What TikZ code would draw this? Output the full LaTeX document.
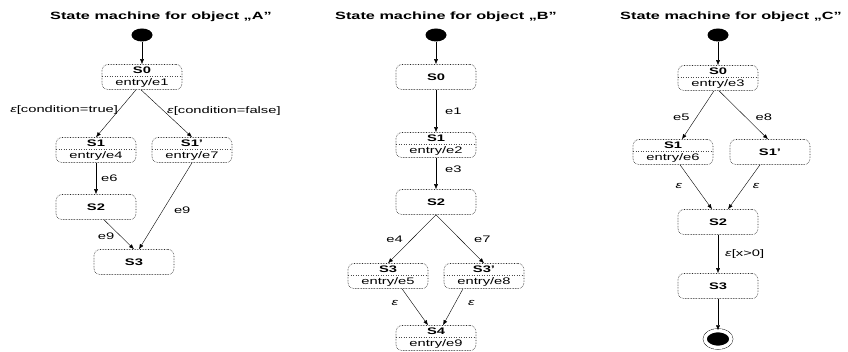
\documentclass[tikz,border=0pt]{standalone}
\usepackage{fontspec}
\setmainfont{Liberation Sans}[FakeStretch=1.55]
\usetikzlibrary{positioning,shapes.geometric,arrows.meta}

\newcommand\epsl{\textit{ε}}

\begin{document}
\begin{tikzpicture}
[
  x=1pt, y=-1pt,
  stat/.style={rectangle, rounded corners=6pt, draw=black!85, densely dotted, line width=.6pt,
    minimum width=80pt, minimum height=25pt, inner sep=1.5pt, align=center,
    font=\fontsize{9.5}{12.2}\selectfont},
  splitstat/.style={stat, path picture={\draw[black!70, dotted, line width=.5pt]
    ([yshift=.5pt]path picture bounding box.west) -- ([yshift=.5pt]path picture bounding box.east);}},
  initdot/.style={ellipse, fill=black, minimum width=21pt, minimum height=13pt, inner sep=0pt},
  finaldot/.style={ellipse, fill=black, draw, double=white, double distance=3.5pt,
    minimum width=26pt, minimum height=17pt, inner sep=0pt},
  heading/.style={font=\fontsize{10.5}{12}\selectfont\bfseries},
  lbl/.style={font=\fontsize{9.5}{11}\selectfont, inner sep=1pt},
  >={Latex[length=5pt,width=4pt]},
  on grid,
  thin
]
 \useasboundingbox (0,0) rectangle (848,352);

 % object A
 \node[heading] (ta) at (161,17) {State machine for object „A”};
 \node[initdot] (ai) at (142,35) {};
 \node[splitstat] (a0) [below=42pt of ai] {\textbf{S0}\\entry/e1};
 \node[splitstat] (a1) [below left=73pt and 46pt of a0] {\textbf{S1}\\entry/e4};
 \node[splitstat] (a1p) [below right=73pt and 50pt of a0] {\textbf{S1'}\\entry/e7};
 \node[stat] (a2) [below=57pt of a1] {\textbf{S2}};
 \node[stat] (a3) [below right=55pt and 38pt of a2] {\textbf{S3}};

 \path[->]
    (ai) edge (a0)
    ([xshift=-6pt]a0.south) edge node [lbl, left, pos=.42] {\epsl[condition=true]} (a1.north)
    ([xshift=-1pt]a0.south) edge node [lbl, right=2pt, pos=.45] {\epsl[condition=false]} (a1p.north)
    (a1) edge node [lbl, right=4pt] {e6} (a2)
    ([xshift=8pt]a2.south) edge node [lbl, left=5pt, pos=.55] {e9} (a3.north)
    (a1p.south) edge node [lbl, right=10pt, pos=.55] {e9} ([xshift=5pt]a3.north);

 % object B
 \node[heading] (tb) at (446,17) {State machine for object „B”};
 \node[initdot] (bi) at (436,35) {};
 \node[stat] (b0) [below=42pt of bi] {\textbf{S0}};
 \node[splitstat] (b1) [below=68pt of b0] {\textbf{S1}\\entry/e2};
 \node[stat] (b2) [below=57pt of b1] {\textbf{S2}};
 \node[splitstat] (b3) [below left=74pt and 48pt of b2] {\textbf{S3}\\entry/e5};
 \node[splitstat] (b3p) [below right=74pt and 48pt of b2] {\textbf{S3'}\\entry/e8};
 \node[splitstat] (b4) [below right=62pt and 48pt of b3] {\textbf{S4}\\entry/e9};

 \path[->]
    (bi) edge (b0)
    (b0) edge node [lbl, right=8pt] {e1} (b1)
    (b1) edge node [lbl, right=8pt, pos=.35] {e3} (b2)
    (b2.south) edge node [lbl, left=8pt] {e4} (b3.north)
    (b2.south) edge node [lbl, right=13pt] {e7} (b3p.north)
    ([xshift=14pt]b3.south) edge node [lbl, left=13pt, pos=.4] {\epsl} ([xshift=-8pt]b4.north)
    ([xshift=-21pt]b3p.south) edge node [lbl, right=12pt, pos=.4] {\epsl} ([xshift=7pt]b4.north);

 % object C
 \node[heading] (tc) at (731,17) {State machine for object „C”};
 \node[initdot] (ci) at (718,35) {};
 \node[splitstat] (c0) [below=43pt of ci] {\textbf{S0}\\entry/e3};
 \node[splitstat] (c1) [below left=74pt and 45pt of c0] {\textbf{S1}\\entry/e6};
 \node[stat] (c1p) [below right=74pt and 52pt of c0] {\textbf{S1'}};
 \node[stat] (c2) [below=144pt of c0] {\textbf{S2}};
 \node[stat] (c3) [below=64pt of c2] {\textbf{S3}};
 \node[finaldot] (cf) [below=53pt of c3] {};

 \path[->]
    (ci) edge (c0)
    ([xshift=-4pt]c0.south) edge node [lbl, left=6pt, pos=.54] {e5} ([xshift=9pt]c1.north)
    ([xshift=1pt]c0.south) edge node [lbl, right=9pt, pos=.54] {e8} ([xshift=-2pt]c1p.north)
    ([xshift=7pt]c1.south) edge node [lbl, left=12pt, pos=.48] {\epsl} ([xshift=-6pt]c2.north)
    ([xshift=-10pt]c1p.south) edge node [lbl, right=7pt, pos=.48] {\epsl} ([xshift=10pt]c2.north)
    (c2) edge node [lbl, right=6pt] {\epsl[x>0]} (c3)
    (c3) edge (cf);
\end{tikzpicture}
\end{document}
